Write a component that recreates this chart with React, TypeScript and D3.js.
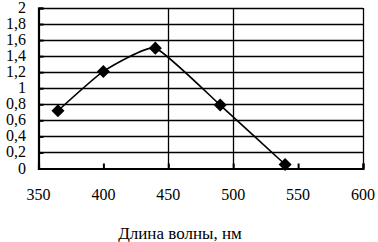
import * as d3 from 'd3';
import React, { useRef, useEffect } from 'react';

// wavelength, nm
const wavelengths = [365, 400, 440, 490, 540];
const values = [0.72, 1.21, 1.5, 0.79, 0.05];
const xTicks = [350, 400, 450, 500, 550, 600];
const yTicks = [0, 0.2, 0.4, 0.6, 0.8, 1, 1.2, 1.4, 1.6, 1.8, 2];
const xGrid = [450, 500];
const xLabel = 'Длина волны, нм';

const App = () => {
  const ref = useRef<SVGSVGElement>(null);

  const width = 378, height = 242;
  const margin = { top: 8, right: 15, bottom: 73.5, left: 38.5 };

  useEffect(() => {
    const svg = d3.select(ref.current);
    svg.selectAll('*').remove();

    const x = d3.scaleLinear()
      .domain([350, 600])
      .range([margin.left, width - margin.right]);
    const y = d3.scaleLinear()
      .domain([0, 2])
      .range([height - margin.bottom, margin.top]);

    const font = "'Times New Roman', 'Liberation Serif', serif";

    // horizontal grid
    svg.append('g')
      .selectAll('line')
      .data(yTicks.slice(1))
      .join('line')
      .attr('x1', x(350)).attr('x2', x(600))
      .attr('y1', (d) => Math.round(y(d)) + 0.5)
      .attr('y2', (d) => Math.round(y(d)) + 0.5)
      .attr('stroke', '#000')
      .attr('stroke-width', 1.3);

    // vertical grid + right border
    svg.append('g')
      .selectAll('line')
      .data(xGrid.concat([600]))
      .join('line')
      .attr('x1', (d) => Math.round(x(d)) + 0.5)
      .attr('x2', (d) => Math.round(x(d)) + 0.5)
      .attr('y1', y(2)).attr('y2', y(0))
      .attr('stroke', '#000')
      .attr('stroke-width', 1.3);

    // Y axis, ticks inside
    const yAxis = svg.append('g')
      .attr('transform', 'translate(' + x(350) + ',0)')
      .call(d3.axisRight(y).tickValues(yTicks).tickSize(5).tickFormat(() => ''));
    yAxis.select('.domain').attr('stroke-width', 2.2);
    yAxis.selectAll('.tick line').attr('stroke-width', 2);

    svg.append('g')
      .selectAll('text')
      .data(yTicks)
      .join('text')
      .attr('x', 26)
      .attr('y', (d) => y(d) + 5)
      .attr('text-anchor', 'end')
      .style('font-family', font)
      .style('font-size', '16px')
      .text((d) => String(d).replace('.', ','));

    // X axis, ticks inside
    const xAxis = svg.append('g')
      .attr('transform', 'translate(0,' + y(0) + ')')
      .call(d3.axisTop(x).tickValues(xTicks).tickSize(5).tickFormat(() => ''));
    xAxis.select('.domain').attr('stroke-width', 2.2);
    xAxis.selectAll('.tick line').attr('stroke-width', 2);

    svg.append('g')
      .selectAll('text')
      .data(xTicks)
      .join('text')
      .attr('x', (d) => x(d))
      .attr('y', 200)
      .attr('text-anchor', 'middle')
      .style('font-family', font)
      .style('font-size', '16px')
      .text((d) => d);

    svg.append('text')
      .attr('x', 180)
      .attr('y', 239)
      .attr('text-anchor', 'middle')
      .style('font-family', font)
      .style('font-size', '17px')
      .text(xLabel);

    // the series
    const data = wavelengths.map((w, i) => ({ w, v: values[i] }));
    svg.append('path')
      .datum(data)
      .attr('fill', 'none')
      .attr('stroke', '#000')
      .attr('stroke-width', 1.6)
      .attr('d', d3.line<{ w: number; v: number }>()
        .curve(d3.curveCardinal.tension(0.55))
        .x((d) => x(d.w))
        .y((d) => y(d.v)));

    svg.append('g')
      .selectAll('path')
      .data(data)
      .join('path')
      .attr('transform', (d) => 'translate(' + x(d.w) + ',' + y(d.v) + ') rotate(45)')
      .attr('d', d3.symbol().type(d3.symbolSquare).size(85)())
      .attr('fill', '#000');
  }, []);

  return (
    <svg ref={ref} width={width} height={height}
      style={{ position: 'absolute', left: 0, top: 0, background: '#fff' }} />
  );
};

export default App;
